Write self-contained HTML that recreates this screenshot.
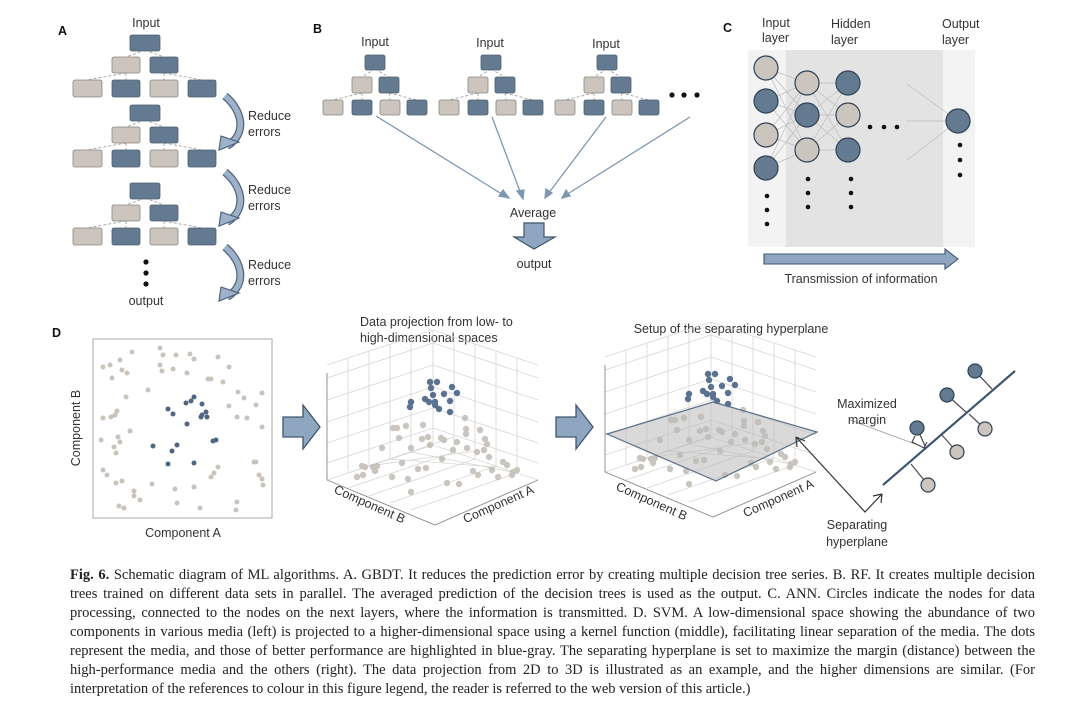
<!DOCTYPE html>
<html><head><meta charset="utf-8"><style>
html,body{margin:0;padding:0;background:#fff;width:1072px;height:713px;overflow:hidden}
svg{position:absolute;left:0;top:0}
text{font-family:"Liberation Sans",sans-serif;fill:#333;font-size:12.5px}
.cap{position:absolute;left:70px;width:965px;font-family:"Liberation Serif",serif;font-size:14.5px;color:#222;line-height:19px;white-space:nowrap}
.j{text-align:justify;text-align-last:justify}
</style></head><body>
<svg width="1072" height="560" viewBox="0 0 1072 560">
<defs>
<g id="tA">
 <g stroke="#999" stroke-width="0.8" stroke-dasharray="3,2" fill="none">
  <path d="M15 15 L-4 22 M15 15 L34 22 M-4 38 L-43 45 M-4 38 L-4 45 M34 38 L34 45 M34 38 L72 45"/>
 </g>
 <g stroke="#4e5f70" stroke-width="0.8">
  <rect x="0" y="0" width="30" height="16" rx="2" fill="#637a91"/>
  <rect x="-18" y="22" width="28" height="16" rx="2" fill="#cbc5bd" stroke="#8a857f"/>
  <rect x="20" y="22" width="28" height="16" rx="2" fill="#637a91"/>
  <rect x="-57" y="45" width="29" height="17" rx="2" fill="#cbc5bd" stroke="#8a857f"/>
  <rect x="-18" y="45" width="28" height="17" rx="2" fill="#637a91"/>
  <rect x="20" y="45" width="28" height="17" rx="2" fill="#cbc5bd" stroke="#8a857f"/>
  <rect x="58" y="45" width="28" height="17" rx="2" fill="#637a91"/>
 </g>
</g>
<g id="tB">
 <g stroke="#999" stroke-width="0.8" stroke-dasharray="3,2" fill="none">
  <path d="M10 14 L-3 22 M10 14 L24 22 M-3 38 L-32 45 M-3 38 L-3 45 M24 38 L25 45 M24 38 L52 45"/>
 </g>
 <g stroke="#4e5f70" stroke-width="0.8">
  <rect x="0" y="0" width="20" height="15" rx="2" fill="#637a91"/>
  <rect x="-13" y="22" width="20" height="16" rx="2" fill="#cbc5bd" stroke="#8a857f"/>
  <rect x="14" y="22" width="20" height="16" rx="2" fill="#637a91"/>
  <rect x="-42" y="45" width="20" height="15" rx="2" fill="#cbc5bd" stroke="#8a857f"/>
  <rect x="-13" y="45" width="20" height="15" rx="2" fill="#637a91"/>
  <rect x="15" y="45" width="20" height="15" rx="2" fill="#cbc5bd" stroke="#8a857f"/>
  <rect x="42" y="45" width="20" height="15" rx="2" fill="#637a91"/>
 </g>
</g>
<g id="curv">
 <path d="M0 0 C 18 15, 22 38, 2 50" fill="none" stroke="#4f6580" stroke-width="8"/>
 <path d="M0 0 C 18 15, 22 38, 2 50" fill="none" stroke="#9db2c8" stroke-width="5.5"/>
 <polygon points="-6,54 -4,40 14,46" fill="#9db2c8" stroke="#4f6580" stroke-width="1.2"/>
</g>
<g id="blk">
 <polygon points="0,-10 20,-10 20,-22 37,0 20,22 20,10 0,10" fill="#8ea6bf" stroke="#3f5570" stroke-width="1.3"/>
</g>
<g id="p3">
 <g stroke="#d6d6d6" stroke-width="0.8" fill="none">
  <path d="M327 365 L433 330 L538 365"/>
  <path d="M348 358 L348 473 M369 351 L369 466 M390 344 L390 459 M411 337 L411 452"/>
  <path d="M454 337 L454 452 M475 344 L475 459 M496 351 L496 466 M517 358 L517 473"/>
  <path d="M327 378 L433 343 L538 378 M327 400 L433 365 L538 400 M327 422 L433 387 L538 422 M327 443 L433 408 L538 443 M327 463 L433 428 L538 463"/>
  <path d="M433 330 L433 445"/>
  <path d="M348 473 L454 437 M369 466 L475 451 M390 459 L496 467 M411 452 L517 473"/>
  <path d="M454 452 L348 488 M475 459 L369 496 M496 466 L390 503 M517 473 L411 510"/>
  <path d="M327 480 L433 445 L538 480"/>
 </g>
 <g stroke="#888" stroke-width="0.9" fill="none">
  <path d="M327 373 L327 480 L435 525 L538 480"/>
 </g>
</g>
</defs>

<!-- Panel A -->
<text x="58" y="35" font-weight="bold" font-size="13" style="fill:#111">A</text>
<text x="146" y="27" text-anchor="middle">Input</text>
<use href="#tA" x="130" y="35"/>
<use href="#tA" x="130" y="105"/>
<use href="#tA" x="130" y="183"/>
<circle cx="146" cy="262" r="2.6" fill="#111"/><circle cx="146" cy="273" r="2.6" fill="#111"/><circle cx="146" cy="284" r="2.6" fill="#111"/>
<text x="146" y="305" text-anchor="middle">output</text>
<use href="#curv" x="225" y="96"/>
<use href="#curv" x="225" y="172"/>
<use href="#curv" x="225" y="247"/>
<text x="248" y="120">Reduce</text><text x="248" y="136">errors</text>
<text x="248" y="194">Reduce</text><text x="248" y="210">errors</text>
<text x="248" y="269">Reduce</text><text x="248" y="285">errors</text>

<!-- Panel B -->
<text x="313" y="33" font-weight="bold" font-size="13" style="fill:#111">B</text>
<text x="375" y="46" text-anchor="middle">Input</text>
<text x="490" y="47" text-anchor="middle">Input</text>
<text x="606" y="48" text-anchor="middle">Input</text>
<use href="#tB" x="365" y="55"/>
<use href="#tB" x="481" y="55"/>
<use href="#tB" x="597" y="55"/>
<circle cx="672" cy="95" r="2.6" fill="#111"/><circle cx="684" cy="95" r="2.6" fill="#111"/><circle cx="697" cy="95" r="2.6" fill="#111"/>
<g stroke="#7f97b0" stroke-width="1.3" fill="#7f97b0">
 <line x1="376" y1="116" x2="505" y2="196"/><polygon points="509,198 499,196 503,190"/>
 <line x1="492" y1="117" x2="521" y2="194"/><polygon points="523,199 517,191 524,190"/>
 <line x1="606" y1="117" x2="548" y2="194"/><polygon points="545,198 546,189 552,193"/>
 <line x1="690" y1="117" x2="566" y2="195"/><polygon points="562,198 566,190 570,196"/>
</g>
<text x="533" y="217" text-anchor="middle">Average</text>
<polygon points="524,223 544,223 544,237 555,237 534,249 514,237 524,237" fill="#8ea6bf" stroke="#3f5570" stroke-width="1.2"/>
<text x="534" y="268" text-anchor="middle">output</text>

<!-- Panel C -->
<text x="723" y="32" font-weight="bold" font-size="13" style="fill:#111">C</text>
<text x="762" y="27">Input</text><text x="762" y="42">layer</text>
<text x="831" y="28">Hidden</text><text x="831" y="44">layer</text>
<text x="942" y="28">Output</text><text x="942" y="44">layer</text>
<rect x="748" y="50" width="227" height="197" fill="#f3f3f3"/>
<rect x="786" y="50" width="157" height="197" fill="#e3e3e3"/>
<g stroke="#bdbdbd" stroke-width="0.7">
 <path d="M766 68 L807 83 M766 68 L807 115 M766 68 L807 150 M766 101 L807 83 M766 101 L807 115 M766 101 L807 150 M766 135 L807 83 M766 135 L807 115 M766 135 L807 150 M766 168 L807 83 M766 168 L807 115 M766 168 L807 150"/>
 <path d="M807 83 L848 83 M807 83 L848 115 M807 83 L848 150 M807 115 L848 83 M807 115 L848 115 M807 115 L848 150 M807 150 L848 83 M807 150 L848 115 M807 150 L848 150"/>
 <path d="M907 84 L958 121 M907 121 L958 121 M907 160 L958 121"/>
</g>
<g stroke="#2f4258" stroke-width="1.2">
 <circle cx="766" cy="68" r="12" fill="#cbc5bd"/>
 <circle cx="766" cy="101" r="12" fill="#637a91"/>
 <circle cx="766" cy="135" r="12" fill="#cbc5bd"/>
 <circle cx="766" cy="168" r="12" fill="#637a91"/>
 <circle cx="807" cy="83" r="12" fill="#cbc5bd"/>
 <circle cx="807" cy="115" r="12" fill="#637a91"/>
 <circle cx="807" cy="150" r="12" fill="#cbc5bd"/>
 <circle cx="848" cy="83" r="12" fill="#637a91"/>
 <circle cx="848" cy="115" r="12" fill="#cbc5bd"/>
 <circle cx="848" cy="150" r="12" fill="#637a91"/>
 <circle cx="958" cy="121" r="12" fill="#637a91"/>
</g>
<g fill="#111">
 <circle cx="767" cy="196" r="2.3"/><circle cx="767" cy="210" r="2.3"/><circle cx="767" cy="224" r="2.3"/>
 <circle cx="808" cy="179" r="2.3"/><circle cx="808" cy="193" r="2.3"/><circle cx="808" cy="207" r="2.3"/>
 <circle cx="851" cy="179" r="2.3"/><circle cx="851" cy="193" r="2.3"/><circle cx="851" cy="207" r="2.3"/>
 <circle cx="870" cy="127" r="2.3"/><circle cx="884" cy="127" r="2.3"/><circle cx="897" cy="127" r="2.3"/>
 <circle cx="960" cy="145" r="2.3"/><circle cx="960" cy="160" r="2.3"/><circle cx="960" cy="175" r="2.3"/>
</g>
<polygon points="764,254 945,254 945,249 958,259 945,269 945,264 764,264" fill="#8ea6bf" stroke="#3f5570" stroke-width="1.1"/>
<text x="861" y="283" text-anchor="middle">Transmission of information</text>

<!-- Panel D -->
<text x="52" y="337" font-weight="bold" font-size="13" style="fill:#111">D</text>
<rect x="93" y="339" width="179" height="179" fill="#fff" stroke="#aaa" stroke-width="1"/>
<g fill="#c9c3bb">
<circle cx="160" cy="348" r="2.5"/><circle cx="132" cy="352" r="2.5"/><circle cx="103" cy="367" r="2.5"/><circle cx="110" cy="365" r="2.5"/><circle cx="120" cy="360" r="2.5"/><circle cx="122" cy="370" r="2.5"/><circle cx="127" cy="373" r="2.5"/><circle cx="112" cy="378" r="2.5"/><circle cx="163" cy="355" r="2.5"/><circle cx="176" cy="355" r="2.5"/><circle cx="190" cy="354" r="2.5"/><circle cx="194" cy="359" r="2.5"/><circle cx="218" cy="357" r="2.5"/><circle cx="160" cy="365" r="2.5"/><circle cx="162" cy="371" r="2.5"/><circle cx="173" cy="369" r="2.5"/><circle cx="187" cy="373" r="2.5"/><circle cx="208" cy="379" r="2.5"/><circle cx="211" cy="379" r="2.5"/><circle cx="223" cy="382" r="2.5"/><circle cx="229" cy="367" r="2.5"/><circle cx="148" cy="390" r="2.5"/><circle cx="126" cy="397" r="2.5"/><circle cx="238" cy="392" r="2.5"/><circle cx="244" cy="398" r="2.5"/><circle cx="262" cy="393" r="2.5"/><circle cx="256" cy="405" r="2.5"/><circle cx="229" cy="406" r="2.5"/><circle cx="237" cy="417" r="2.5"/><circle cx="247" cy="418" r="2.5"/><circle cx="262" cy="427" r="2.5"/><circle cx="117" cy="411" r="2.5"/><circle cx="115" cy="415" r="2.5"/><circle cx="111" cy="417" r="2.5"/><circle cx="103" cy="418" r="2.5"/><circle cx="130" cy="431" r="2.5"/><circle cx="101" cy="440" r="2.5"/><circle cx="118" cy="437" r="2.5"/><circle cx="120" cy="442" r="2.5"/><circle cx="114" cy="447" r="2.5"/><circle cx="116" cy="453" r="2.5"/><circle cx="103" cy="470" r="2.5"/><circle cx="107" cy="475" r="2.5"/><circle cx="116" cy="483" r="2.5"/><circle cx="122" cy="481" r="2.5"/><circle cx="134" cy="491" r="2.5"/><circle cx="134" cy="496" r="2.5"/><circle cx="140" cy="500" r="2.5"/><circle cx="119" cy="506" r="2.5"/><circle cx="124" cy="508" r="2.5"/><circle cx="152" cy="484" r="2.5"/><circle cx="175" cy="489" r="2.5"/><circle cx="177" cy="503" r="2.5"/><circle cx="194" cy="487" r="2.5"/><circle cx="200" cy="508" r="2.5"/><circle cx="211" cy="477" r="2.5"/><circle cx="214" cy="473" r="2.5"/><circle cx="218" cy="467" r="2.5"/><circle cx="237" cy="502" r="2.5"/><circle cx="236" cy="510" r="2.5"/><circle cx="254" cy="462" r="2.5"/><circle cx="256" cy="462" r="2.5"/><circle cx="259" cy="475" r="2.5"/><circle cx="262" cy="479" r="2.5"/><circle cx="263" cy="485" r="2.5"/>
</g>
<g fill="#4f6680">
<circle cx="168" cy="409" r="2.5"/><circle cx="173" cy="414" r="2.5"/><circle cx="186" cy="403" r="2.5"/><circle cx="191" cy="401" r="2.5"/><circle cx="194" cy="397" r="2.5"/><circle cx="202" cy="404" r="2.5"/><circle cx="206" cy="412" r="2.5"/><circle cx="202" cy="415" r="2.5"/><circle cx="201" cy="417" r="2.5"/><circle cx="207" cy="417" r="2.5"/><circle cx="187" cy="424" r="2.5"/><circle cx="213" cy="441" r="2.5"/><circle cx="216" cy="440" r="2.5"/><circle cx="153" cy="446" r="2.5"/><circle cx="177" cy="445" r="2.5"/><circle cx="172" cy="451" r="2.5"/><circle cx="168" cy="464" r="2.5"/><circle cx="194" cy="463" r="2.5"/>
</g>
<text x="0" y="0" transform="translate(80,428) rotate(-90)" text-anchor="middle">Component B</text>
<text x="183" y="537" text-anchor="middle">Component A</text>

<use href="#blk" x="283" y="427"/>
<use href="#blk" x="556" y="427"/>

<!-- middle 3D -->
<text x="360" y="326">Data projection from low- to</text>
<text x="360" y="342">high-dimensional spaces</text>
<use href="#p3"/>
<g id="dots3">
<g fill="#c2bcb4" opacity="0.85">
<circle cx="465" cy="418" r="3.2"/><circle cx="393" cy="428" r="3.2"/><circle cx="397" cy="428" r="3.2"/><circle cx="406" cy="426" r="3.2"/><circle cx="423" cy="425" r="3.2"/><circle cx="466" cy="429" r="3.2"/><circle cx="480" cy="430" r="3.2"/><circle cx="399" cy="438" r="3.2"/><circle cx="422" cy="439" r="3.2"/><circle cx="428" cy="437" r="3.2"/><circle cx="441" cy="438" r="3.2"/><circle cx="444" cy="440" r="3.2"/><circle cx="457" cy="442" r="3.2"/><circle cx="466" cy="434" r="3.2"/><circle cx="485" cy="439" r="3.2"/><circle cx="487" cy="444" r="3.2"/><circle cx="382" cy="448" r="3.2"/><circle cx="411" cy="448" r="3.2"/><circle cx="430" cy="445" r="3.2"/><circle cx="453" cy="450" r="3.2"/><circle cx="467" cy="448" r="3.2"/><circle cx="484" cy="450" r="3.2"/><circle cx="477" cy="452" r="3.2"/><circle cx="489" cy="457" r="3.2"/><circle cx="442" cy="459" r="3.2"/><circle cx="402" cy="463" r="3.2"/><circle cx="362" cy="466" r="3.2"/><circle cx="365" cy="467" r="3.2"/><circle cx="373" cy="467" r="3.2"/><circle cx="377" cy="466" r="3.2"/><circle cx="418" cy="469" r="3.2"/><circle cx="426" cy="468" r="3.2"/><circle cx="473" cy="471" r="3.2"/><circle cx="478" cy="475" r="3.2"/><circle cx="492" cy="470" r="3.2"/><circle cx="503" cy="462" r="3.2"/><circle cx="507" cy="465" r="3.2"/><circle cx="513" cy="472" r="3.2"/><circle cx="517" cy="470" r="3.2"/><circle cx="512" cy="475" r="3.2"/><circle cx="357" cy="477" r="3.2"/><circle cx="363" cy="475" r="3.2"/><circle cx="375" cy="471" r="3.2"/><circle cx="392" cy="477" r="3.2"/><circle cx="408" cy="479" r="3.2"/><circle cx="447" cy="483" r="3.2"/><circle cx="459" cy="484" r="3.2"/><circle cx="498" cy="477" r="3.2"/><circle cx="411" cy="492" r="3.2"/>
</g>
<g fill="#5a7290">
<circle cx="430" cy="382" r="3.2"/><circle cx="437" cy="382" r="3.2"/><circle cx="431" cy="388" r="3.2"/><circle cx="452" cy="387" r="3.2"/><circle cx="457" cy="393" r="3.2"/><circle cx="433" cy="395" r="3.2"/><circle cx="444" cy="394" r="3.2"/><circle cx="425" cy="399" r="3.2"/><circle cx="429" cy="402" r="3.2"/><circle cx="435" cy="402" r="3.2"/><circle cx="450" cy="401" r="3.2"/><circle cx="411" cy="402" r="3.2"/><circle cx="410" cy="407" r="3.2"/><circle cx="439" cy="409" r="3.2"/><circle cx="450" cy="412" r="3.2"/><circle cx="435" cy="405" r="3.2"/>
</g>
</g>
<text transform="translate(368,508) rotate(24)" text-anchor="middle" font-size="13">Component B</text>
<text transform="translate(500,508) rotate(-24)" text-anchor="middle" font-size="13">Component A</text>

<!-- right 3D -->
<text x="731" y="333" text-anchor="middle">Setup of the separating hyperplane</text>
<g transform="translate(278,-8)">
<use href="#p3"/>
<use href="#dots3"/>
</g>
<polygon points="607,434 713,402 817,432 716,481" fill="#b9b9b9" fill-opacity="0.55" stroke="#5a6f88" stroke-width="1.2"/>
<text transform="translate(650,505) rotate(24)" text-anchor="middle" font-size="13">Component B</text>
<text transform="translate(780,502) rotate(-24)" text-anchor="middle" font-size="13">Component A</text>

<!-- hyperplane annotation -->
<path d="M796 437 L865 512 L882 494" fill="none" stroke="#333" stroke-width="1.2"/>
<path d="M796 437 L797 447 M796 437 L805 441 M882 494 L873 496 M882 494 L881 503" stroke="#333" stroke-width="1.2"/>
<line x1="883" y1="485" x2="1015" y2="371" stroke="#3f5570" stroke-width="2.2"/>
<g stroke="#555" stroke-width="1.3">
 <line x1="975" y1="371" x2="992" y2="389"/>
 <line x1="947" y1="395" x2="967" y2="413"/>
 <line x1="917" y1="428" x2="925" y2="446"/>
 <line x1="985" y1="429" x2="969" y2="414"/>
 <line x1="957" y1="452" x2="941" y2="434"/>
 <line x1="928" y1="485" x2="911" y2="464"/>
 <line x1="850" y1="420" x2="915" y2="444" stroke="#999" stroke-width="0.8"/>
 <path d="M915 436 L912 442 L924 448 L927 442" fill="none" stroke="#333" stroke-width="1"/>
</g>
<g stroke="#2f4258" stroke-width="1.2">
 <circle cx="975" cy="371" r="7" fill="#637a91"/>
 <circle cx="947" cy="395" r="7" fill="#637a91"/>
 <circle cx="917" cy="428" r="7" fill="#637a91"/>
 <circle cx="985" cy="429" r="7" fill="#cbc5bd"/>
 <circle cx="957" cy="452" r="7" fill="#cbc5bd"/>
 <circle cx="928" cy="485" r="7" fill="#cbc5bd"/>
</g>
<text x="867" y="408" text-anchor="middle">Maximized</text>
<text x="867" y="424" text-anchor="middle">margin</text>
<text x="857" y="529" text-anchor="middle">Separating</text>
<text x="857" y="546" text-anchor="middle">hyperplane</text>
</svg>

<div class="cap j" style="top:566px"><b>Fig. 6.</b> Schematic diagram of ML algorithms. A. GBDT. It reduces the prediction error by creating multiple decision tree series. B. RF. It creates multiple decision</div>
<div class="cap j" style="top:585px">trees trained on different data sets in parallel. The averaged prediction of the decision trees is used as the output. C. ANN. Circles indicate the nodes for data</div>
<div class="cap j" style="top:604px">processing, connected to the nodes on the next layers, where the information is transmitted. D. SVM. A low-dimensional space showing the abundance of two</div>
<div class="cap j" style="top:623px">components in various media (left) is projected to a higher-dimensional space using a kernel function (middle), facilitating linear separation of the media. The dots</div>
<div class="cap j" style="top:642px">represent the media, and those of better performance are highlighted in blue-gray. The separating hyperplane is set to maximize the margin (distance) between the</div>
<div class="cap j" style="top:661px">high-performance media and the others (right). The data projection from 2D to 3D is illustrated as an example, and the higher dimensions are similar. (For</div>
<div class="cap" style="top:680px">interpretation of the references to colour in this figure legend, the reader is referred to the web version of this article.)</div>
</body></html>
